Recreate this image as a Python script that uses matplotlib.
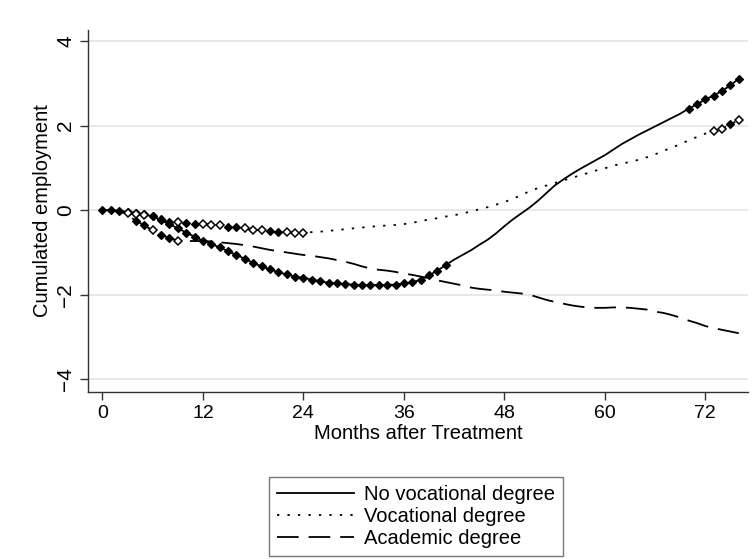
import numpy as np
import matplotlib
matplotlib.use("Agg")
import matplotlib.pyplot as plt

plt.rcParams['font.family'] = ['Liberation Sans', 'DejaVu Sans']

# months after treatment
months = np.arange(0, 77)

# cumulated employment, no vocational degree (solid)
no_voc = [0.00, 0.00, -0.02, -0.04, -0.06, -0.10, -0.15, -0.24, -0.33, -0.43,
          -0.53, -0.63, -0.72, -0.80, -0.88, -0.97, -1.06, -1.15, -1.25, -1.33,
          -1.40, -1.47, -1.52, -1.57, -1.60, -1.64, -1.68, -1.72, -1.73, -1.75,
          -1.76, -1.77, -1.77, -1.77, -1.77, -1.76, -1.73, -1.71, -1.64, -1.54,
          -1.43, -1.30, -1.17, -1.06, -0.95, -0.82, -0.70, -0.55, -0.38, -0.22,
          -0.08, 0.06, 0.22, 0.40, 0.58, 0.72, 0.85, 0.97, 1.08, 1.19,
          1.30, 1.43, 1.56, 1.67, 1.78, 1.88, 1.98, 2.08, 2.18, 2.28,
          2.40, 2.50, 2.62, 2.71, 2.82, 2.95, 3.11]

# vocational degree (dotted)
voc = [0.00, 0.00, -0.03, -0.07, -0.09, -0.12, -0.15, -0.22, -0.27, -0.29,
       -0.31, -0.32, -0.33, -0.34, -0.36, -0.39, -0.41, -0.43, -0.46, -0.47,
       -0.49, -0.51, -0.52, -0.53, -0.53, -0.52, -0.51, -0.49, -0.47, -0.45,
       -0.43, -0.41, -0.39, -0.38, -0.36, -0.35, -0.33, -0.30, -0.26, -0.22,
       -0.19, -0.15, -0.12, -0.08, -0.03, 0.02, 0.07, 0.13, 0.19, 0.27,
       0.35, 0.45, 0.52, 0.58, 0.64, 0.70, 0.76, 0.82, 0.88, 0.94,
       0.99, 1.05, 1.10, 1.14, 1.19, 1.25, 1.32, 1.40, 1.48, 1.56,
       1.65, 1.73, 1.81, 1.87, 1.93, 2.03, 2.13]

# academic degree (dashed)
acad = [0.00, 0.00, -0.02, -0.12, -0.25, -0.36, -0.48, -0.58, -0.66, -0.72,
        -0.73, -0.73, -0.73, -0.74, -0.76, -0.78, -0.80, -0.83, -0.86, -0.90,
        -0.94, -0.97, -1.00, -1.03, -1.06, -1.08, -1.11, -1.14, -1.18, -1.22,
        -1.27, -1.33, -1.38, -1.41, -1.43, -1.46, -1.50, -1.53, -1.57, -1.61,
        -1.66, -1.70, -1.74, -1.78, -1.83, -1.86, -1.88, -1.90, -1.93, -1.95,
        -1.97, -2.00, -2.06, -2.12, -2.17, -2.21, -2.25, -2.28, -2.30, -2.31,
        -2.31, -2.30, -2.30, -2.31, -2.33, -2.35, -2.40, -2.43, -2.48, -2.54,
        -2.61, -2.67, -2.74, -2.79, -2.83, -2.87, -2.91]

# months with significance markers (filled / hollow diamonds)
no_voc_filled = list(range(0, 42)) + list(range(70, 77))
no_voc_hollow = []
voc_filled = [6, 7, 8, 10, 11, 15, 16, 20, 21, 75]
voc_hollow = [3, 4, 5, 9, 12, 13, 14, 17, 18, 19, 22, 23, 24, 73, 74, 76]
acad_filled = [4, 5, 7, 8]
acad_hollow = [6, 9]

labels = ["No vocational degree", "Vocational degree", "Academic degree"]

fig = plt.figure(figsize=(7.56, 5.59), dpi=100)
ax = fig.add_axes([88 / 756, 1 - 392 / 559, 660 / 756, 362 / 559])

series = [(no_voc, '-', no_voc_filled, no_voc_hollow),
          (voc, (0, (1.3, 4.5)), voc_filled, voc_hollow),
          (acad, (0, (12, 5.5)), acad_filled, acad_hollow)]

handles = []
for vals, ls, filled, hollow in series:
    vals = np.array(vals)
    h, = ax.plot(months, vals, color='black', lw=1.3, linestyle=ls)
    handles.append(h)
    if filled:
        ax.plot(months[filled], vals[filled], linestyle='none', marker='D',
                ms=4.4, mfc='black', mec='black', mew=0.9)
    if hollow:
        ax.plot(months[hollow], vals[hollow], linestyle='none', marker='D',
                ms=3.6, mfc='white', mec='black', mew=1.1)

ax.set_xlim(-1.73, 77.1)
ax.set_ylim(-4.3, 4.26)
ax.set_xticks(np.arange(0, 73, 12))
ax.set_yticks([-4, -2, 0, 2, 4])
ax.grid(axis='y', color='#e6e6e6', lw=1.3)
ax.set_axisbelow(True)
for s in ['top', 'right']:
    ax.spines[s].set_visible(False)
for s in ['left', 'bottom']:
    ax.spines[s].set_color('#333333')
    ax.spines[s].set_linewidth(1.0)
ax.tick_params(axis='both', direction='out', length=6, width=1.0,
               color='#333333')
ax.tick_params(axis='x', labelsize=14, pad=3)
ax.tick_params(axis='y', labelsize=15, pad=3)
for lab in ax.get_yticklabels():
    lab.set_rotation(90)
    lab.set_va('center')

ax.set_xlabel("Months after Treatment", fontsize=14.5, labelpad=2)
ax.set_ylabel("Cumulated employment", fontsize=14.5, labelpad=3)

leg = fig.legend(handles, labels, loc='upper center',
                 bbox_to_anchor=(416 / 756, 1 - 477 / 559), fontsize=14.5,
                 frameon=True, fancybox=False, edgecolor='#555555',
                 handlelength=3.8, borderpad=0.4, labelspacing=0.15,
                 handletextpad=0.5, borderaxespad=0)
leg.get_frame().set_linewidth(1.0)

fig.savefig("out.png", dpi=100)
